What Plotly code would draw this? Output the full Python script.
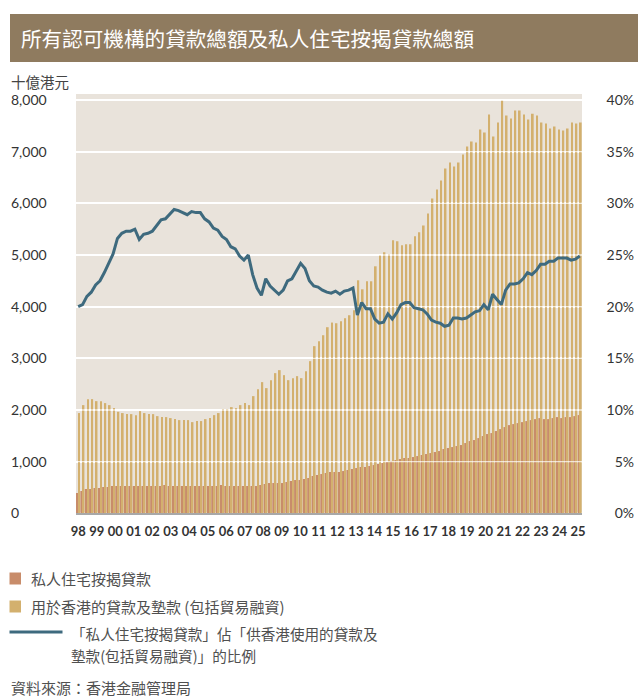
import plotly.graph_objects as go

# ---------------- data ----------------
year_labels = ["98", "99", "00", "01", "02", "03", "04", "05", "06", "07", "08", "09", "10",
               "11", "12", "13", "14", "15", "16", "17", "18", "19", "20", "21", "22", "23",
               "24", "25"]

# 用於香港的貸款及墊款（包括貿易融資）, HK$ bn, quarterly
loans_hk = [
    1940, 2094, 2210, 2210, 2171, 2171, 2133, 2094, 2036, 1965, 1940, 1920, 1920, 1900, 1978,
    1940, 1920, 1920, 1881, 1862, 1862, 1843, 1823, 1804, 1804, 1804, 1765, 1785, 1785,
    1823, 1843, 1900, 1940, 2017, 2017, 2055, 2036, 2094, 2133, 2094, 2268, 2403, 2539, 2423,
    2577, 2713, 2771, 2674, 2577, 2616, 2655, 2616, 2751, 2945, 3235, 3331, 3447, 3602,
    3692, 3679, 3718, 3776, 3834, 3930, 4510, 4336, 4491, 4491, 4781, 4993, 5052, 5013, 5284,
    5264, 5187, 5206, 5206, 5361, 5438, 5573, 5805, 6095, 6269, 6443, 6675, 6791, 6714,
    6791, 6946, 7100, 7197, 7178, 7429, 7371, 7719, 7294, 7565, 7990, 7700, 7642, 7796, 7796,
    7719, 7622, 7732, 7700, 7565, 7545, 7448, 7487, 7429, 7410, 7448, 7565, 7545, 7565,
]

# 私人住宅按揭貸款, HK$ bn, quarterly
mortgage = [
    393, 432, 470, 470, 490, 490, 509, 509, 528, 528, 528, 528, 528, 528, 528,
    528, 528, 528, 528, 528, 548, 528, 528, 528, 528, 528, 528, 528, 528,
    528, 528, 528, 528, 548, 528, 528, 528, 528, 528, 528, 528, 528, 548, 567,
    586, 586, 586, 586, 606, 625, 644, 644, 664, 683, 722, 741, 760, 780,
    799, 799, 799, 818, 838, 857, 876, 896, 896, 915, 934, 954, 973, 992, 1012,
    1031, 1050, 1070, 1070, 1089, 1108, 1128, 1147, 1166, 1186, 1205, 1244, 1263, 1282,
    1302, 1321, 1360, 1398, 1418, 1456, 1495, 1534, 1553, 1592, 1630, 1669, 1707, 1727, 1746,
    1765, 1785, 1804, 1823, 1843, 1823, 1823, 1843, 1862, 1843, 1862, 1862, 1881, 1901,
]

# 比例 (%)
ratio = [
    20.0, 20.2, 21.0, 21.4, 22.1, 22.5, 23.3, 24.2, 25.1, 26.6, 27.1, 27.3, 27.3, 27.5, 26.5,
    27.0, 27.1, 27.3, 27.8, 28.4, 28.5, 29.0, 29.4, 29.3, 29.1, 28.9, 29.2, 29.1, 29.1,
    28.5, 28.2, 27.6, 27.4, 26.8, 26.5, 25.8, 25.6, 24.9, 24.5, 25.0, 23.1, 21.8, 21.1, 22.7,
    22.0, 21.6, 21.2, 21.6, 22.5, 22.7, 23.4, 24.2, 23.7, 22.5, 22.0, 21.9, 21.6, 21.4,
    21.3, 21.5, 21.2, 21.5, 21.6, 21.8, 19.2, 20.4, 19.8, 19.8, 18.8, 18.4, 18.5, 19.3, 18.8,
    19.4, 20.2, 20.4, 20.4, 19.9, 19.8, 19.7, 19.3, 18.7, 18.5, 18.4, 18.1, 18.2, 18.9,
    18.9, 18.8, 18.9, 19.2, 19.5, 19.6, 20.2, 19.7, 21.2, 20.7, 20.2, 21.6, 22.2, 22.2, 22.3,
    22.7, 23.3, 23.1, 23.5, 24.1, 24.1, 24.4, 24.4, 24.7, 24.7, 24.7, 24.5, 24.6, 24.9,
]

left_ticks = [0, 1000, 2000, 3000, 4000, 5000, 6000, 7000, 8000]
right_ticks = [0, 5, 10, 15, 20, 25, 30, 35, 40]
right_labels = ["0%", "5%", "10%", "15%", "20%", "25%", "30%", "35%", "40%"]

# ---------------- styling ----------------
W, H = 638, 698
C_MORT = "#C88C6A"
C_LOAN = "#D3B06E"
C_LINE = "#3E6A7E"
C_BG = "#E9E3DB"
C_TITLE = "#8F7B5F"
CJK = "Noto Sans CJK TC"


def px(x):
    return x / W


def py(y):
    return 1 - y / H


n = len(loans_hk)
xs = list(range(n))
span = n - 1 - 0.4
tickvals = [i * span / (len(year_labels) - 1) for i in range(len(year_labels))]

# pixel geometry of the plot area
PL, PR = 76, 582           # plot area left/right
PT, PB = 94, 514           # plot area top/bottom (background)
Y0_PX, Y8_PX = 513.3, 100  # pixel rows of value 0 and 8000
vpp = 8000 / (Y0_PX - Y8_PX)
DT, DB = 80, 528           # extended axis domain so end tick labels stay visible
ymin = -(DB - Y0_PX) * vpp
ymax = (Y0_PX - DT) * vpp

fig = go.Figure()
fig.add_trace(go.Bar(x=xs, y=mortgage, marker_color=C_MORT, marker_line_width=0,
                     width=0.53, offset=-0.5, name="私人住宅按揭貸款"))
fig.add_trace(go.Bar(x=xs, y=loans_hk, marker_color=C_LOAN, marker_line_width=0,
                     width=0.39, offset=0.03, name="用於香港的貸款及墊款"))

# faint gridlines over the bars (under the line)
gx, gy = [], []
for t in left_ticks[1:]:
    gx += [-0.5, n - 0.5, None]
    gy += [t, t, None]
fig.add_trace(go.Scatter(x=gx, y=gy, mode="lines", line=dict(color="rgba(255,255,255,0.7)", width=1.3),
                         hoverinfo="skip", showlegend=False))

fig.add_trace(go.Scatter(x=xs, y=ratio, yaxis="y2", mode="lines",
                         line=dict(color=C_LINE, width=3), name="比例"))

fig.update_layout(
    width=W, height=H,
    margin=dict(l=0, r=0, t=0, b=0, autoexpand=False),
    paper_bgcolor="white", plot_bgcolor="rgba(0,0,0,0)",
    barmode="overlay", showlegend=False,
    xaxis=dict(domain=[px(PL), px(PR)], range=[-0.5, n - 0.5],
               anchor="free", position=py(PB),
               tickmode="array", tickvals=tickvals, ticktext=year_labels,
               tickfont=dict(family="Lato", size=13, color="#333333", weight="bold"),
               ticklabelstandoff=5,
               showline=True, linecolor="#A8A8A8", linewidth=2, showgrid=False,
               zeroline=False, ticks=""),
    yaxis=dict(domain=[py(DB), py(DT)], range=[ymin, ymax],
               tickmode="array", tickvals=left_ticks, tickformat=",d",
               showgrid=True, gridcolor="white", gridwidth=1.5,
               anchor="free", position=px(7), ticklabelposition="inside",
               tickfont=dict(family="Lato", size=14, color="#333333"),
               zeroline=False, showline=False, ticks=""),
    yaxis2=dict(overlaying="y", side="right", anchor="free", position=px(637),
                range=[ymin / 200, ymax / 200], tickmode="array", tickvals=right_ticks,
                ticktext=right_labels, ticklabelposition="inside",
                tickfont=dict(family="Lato", size=14, color="#333333"),
                showgrid=False, zeroline=False, showline=False, ticks=""),
)

shapes = [
    dict(type="rect", xref="paper", yref="paper", x0=px(PL), x1=px(PR), y0=py(PB), y1=py(PT),
         fillcolor=C_BG, line_width=0, layer="below"),
    dict(type="rect", xref="paper", yref="paper", x0=px(10), x1=px(W), y0=py(62), y1=py(14),
         fillcolor=C_TITLE, line_width=0, layer="below"),
    dict(type="rect", xref="paper", yref="paper", x0=px(9.5), x1=px(21), y0=py(584.5), y1=py(572.5),
         fillcolor=C_MORT, line_width=0),
    dict(type="rect", xref="paper", yref="paper", x0=px(9.5), x1=px(21), y0=py(612.5), y1=py(600.5),
         fillcolor=C_LOAN, line_width=0),
    dict(type="line", xref="paper", yref="paper", x0=px(9.5), x1=px(62.5), y0=py(632), y1=py(632),
         line=dict(color=C_LINE, width=3)),
]

TXT = "#505050"
annotations = [
    dict(text="所有認可機構的貸款總額及私人住宅按揭貸款總額", x=px(19), y=py(38),
         font=dict(family=CJK, size=20.6, color="white")),
    dict(text="十億港元", x=px(9), y=py(82), font=dict(family=CJK, size=14.5, color="#444444")),
    dict(text="私人住宅按揭貸款", x=px(29), y=py(578), font=dict(family=CJK, size=15, color=TXT)),
    dict(text="用於香港的貸款及墊款 (包括貿易融資)", x=px(29), y=py(606),
         font=dict(family=CJK, size=15, color=TXT)),
    dict(text="「私人住宅按揭貸款」佔「供香港使用的貸款及", x=px(69), y=py(633),
         font=dict(family=CJK, size=14.6, color=TXT)),
    dict(text="墊款(包括貿易融資)」的比例", x=px(69), y=py(655),
         font=dict(family=CJK, size=14.6, color=TXT)),
    dict(text="資料來源：香港金融管理局", x=px(9), y=py(687),
         font=dict(family=CJK, size=15, color=TXT)),
]
for a in annotations:
    a.update(xref="paper", yref="paper", xanchor="left", yanchor="middle", showarrow=False)

fig.update_layout(shapes=shapes, annotations=annotations)

fig.write_html("out.html", config={"displayModeBar": False},
               post_script="document.body.style.margin='0px';")
